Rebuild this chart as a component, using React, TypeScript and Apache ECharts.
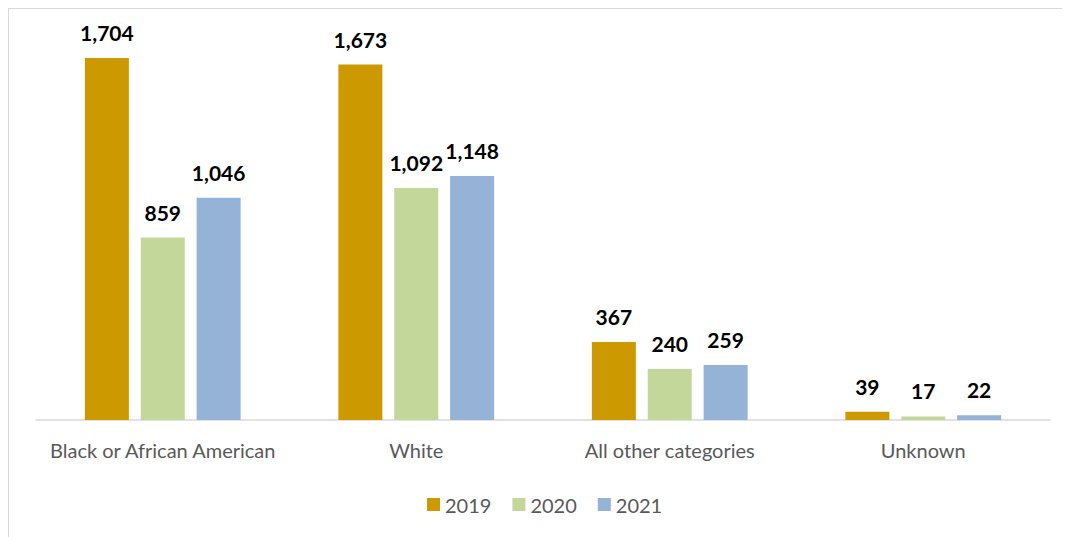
import React, { useEffect, useRef } from "react";
import * as echarts from "echarts";

const categories = ["Black or African American", "White", "All other categories", "Unknown"];
const years = ["2019", "2020", "2021"];
const values2019 = [1704, 1673, 367, 39];
const values2020 = [859, 1092, 240, 17];
const values2021 = [1046, 1148, 259, 22];
const colors = ["#CC9900", "#C4D79B", "#95B3D7"];

export default function App() {
  const ref = useRef<HTMLDivElement>(null);
  useEffect(() => {
    const chart = echarts.init(ref.current!, null, { renderer: "svg" });
    const font = "Lato, 'Open Sans', sans-serif";
    const data = [values2019, values2020, values2021];
    chart.setOption({
      animation: false,
      grid: { left: 27, right: 20, top: 28.6, bottom: 117 },
      legend: {
        top: 480.5,
        left: 413,
        itemWidth: 13,
        itemHeight: 13,
        itemGap: 21,
        icon: "rect",
        textStyle: { fontFamily: font, fontSize: 20, color: "#595959" },
        data: years,
      },
      xAxis: {
        type: "category",
        data: categories,
        axisLine: { lineStyle: { color: "#d9d9d9", width: 1.5 } },
        axisTick: { show: false },
        axisLabel: { interval: 0, fontFamily: font, fontSize: 20, color: "#595959", margin: 20 },
      },
      yAxis: {
        type: "value",
        min: 0,
        max: 1800,
        show: false,
        splitLine: { show: false },
      },
      series: years.map((y, i) => ({
        name: y,
        type: "bar",
        data: data[i],
        barWidth: 44,
        barGap: "27%",
        itemStyle: { color: colors[i] },
        label: {
          show: true,
          position: "top",
          distance: 15,
          fontFamily: font,
          fontWeight: "bold",
          fontSize: 21,
          color: "#000",
          formatter: (p: any) => p.value.toLocaleString("en-US"),
        },
      })),
    });
    return () => chart.dispose();
  }, []);
  return (
    <div
      style={{
        width: 1062,
        height: 529,
        borderLeft: "1px solid #d9d9d9",
        borderTop: "1px solid #d9d9d9",
        boxSizing: "border-box",
      }}
    >
      <div ref={ref} style={{ width: 1061, height: 528 }} />
    </div>
  );
}
